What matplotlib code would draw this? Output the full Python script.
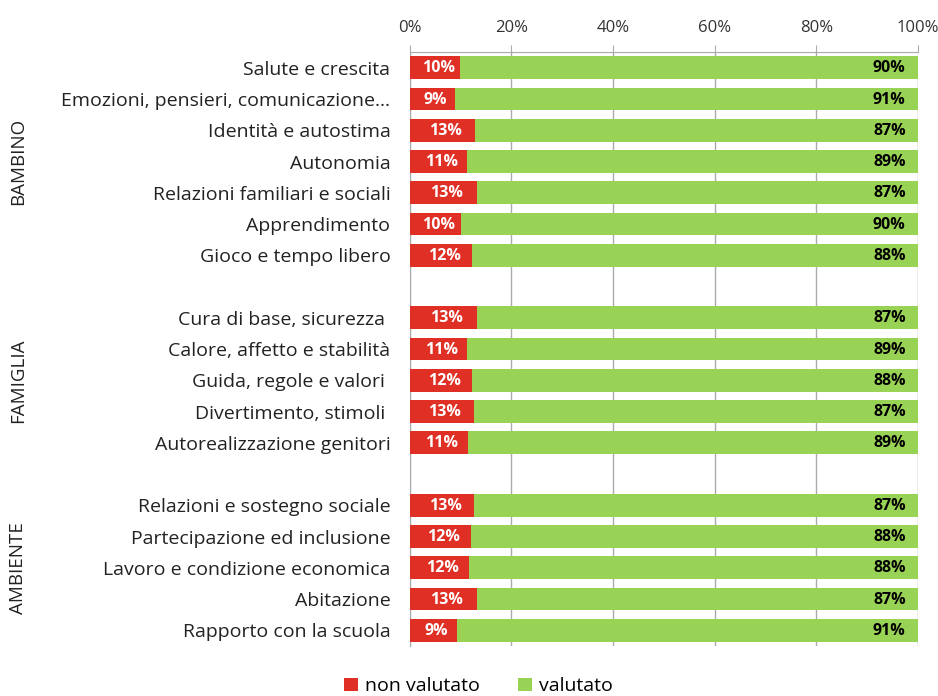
import matplotlib.pyplot as plt
import numpy as np

# data (share "non valutato", in %)
bambino = ["Salute e crescita", "Emozioni, pensieri, comunicazione…",
           "Identità e autostima", "Autonomia", "Relazioni familiari e sociali",
           "Apprendimento", "Gioco e tempo libero"]
bambino_nv = [9.9, 8.9, 12.9, 11.3, 13.3, 10.0, 12.3]

famiglia = ["Cura di base, sicurezza ", "Calore, affetto e stabilità",
            "Guida, regole e valori ", "Divertimento, stimoli ",
            "Autorealizzazione genitori"]
famiglia_nv = [13.3, 11.3, 12.3, 12.6, 11.4]

ambiente = ["Relazioni e sostegno sociale", "Partecipazione ed inclusione",
            "Lavoro e condizione economica", "Abitazione", "Rapporto con la scuola"]
ambiente_nv = [12.7, 12.1, 11.6, 13.3, 9.2]

group_names = ["BAMBINO", "FAMIGLIA", "AMBIENTE"]
legend_labels = ["non valutato", "valutato"]

RED = "#E02F24"
GREEN = "#99D356"
GRID = "#ABABAB"
FONT = ["Open Sans", "DejaVu Sans"]

plt.rcParams["font.family"] = FONT

# build row positions with a blank slot between groups
labels, nv, ypos, group_centers = [], [], [], []
y = 0
for names, vals in [(bambino, bambino_nv), (famiglia, famiglia_nv), (ambiente, ambiente_nv)]:
    start = y
    for n, v in zip(names, vals):
        labels.append(n)
        nv.append(v)
        ypos.append(y)
        y += 1
    group_centers.append((start + y - 1) / 2)
    y += 1
nv = np.array(nv)
v = 100 - nv
ypos = np.array(ypos)

fig = plt.figure(figsize=(9.38, 6.96), dpi=100)
ax = fig.add_axes([0.437, 0.072, 0.5415, 0.853])

ax.barh(ypos, nv, height=0.73, color=RED, label=legend_labels[0], zorder=3)
ax.barh(ypos, v, left=nv, height=0.73, color=GREEN, label=legend_labels[1], zorder=3)

for yy, a, b in zip(ypos, nv, v):
    ax.text(a / 2 + 0.6, yy + 0.02, f"{round(a)}%", ha="center", va="center",
            color="white", fontsize=11.5, fontweight="bold", zorder=4)
    ax.text(97.6, yy + 0.02, f"{round(b)}%", ha="right", va="center",
            color="black", fontsize=11.5, fontweight="bold", zorder=4)

ax.set_xlim(0, 100)
ax.set_ylim(y - 1 - 0.5, -0.5)
ax.set_xticks(np.arange(0, 101, 20))
ax.set_xticklabels([f"{t}%" for t in range(0, 101, 20)], fontsize=12, color="#333333")
ax.xaxis.tick_top()
ax.tick_params(axis="x", length=5, color=GRID, pad=7)
ax.set_yticks(ypos)
ax.set_yticklabels(labels, fontsize=14, color="#222222")
ax.tick_params(axis="y", length=0, pad=14)
ax.grid(axis="x", color=GRID, linewidth=1, zorder=0)

for s in ["right", "bottom"]:
    ax.spines[s].set_visible(False)
for s in ["top", "left"]:
    ax.spines[s].set_color(GRID)

for name, c in zip(group_names, group_centers):
    ax.text(0.019, ax.transData.transform((0, c))[1] / fig.bbox.height, name,
            transform=fig.transFigure, rotation=90, ha="center", va="center",
            fontsize=13.5, color="#222222")

fig.legend(loc="lower center", bbox_to_anchor=(0.51, -0.024), ncol=2, frameon=False,
           fontsize=14, handlelength=0.7, handleheight=0.7, handletextpad=0.35,
           columnspacing=2.0)

fig.savefig("out.png", dpi=100)
